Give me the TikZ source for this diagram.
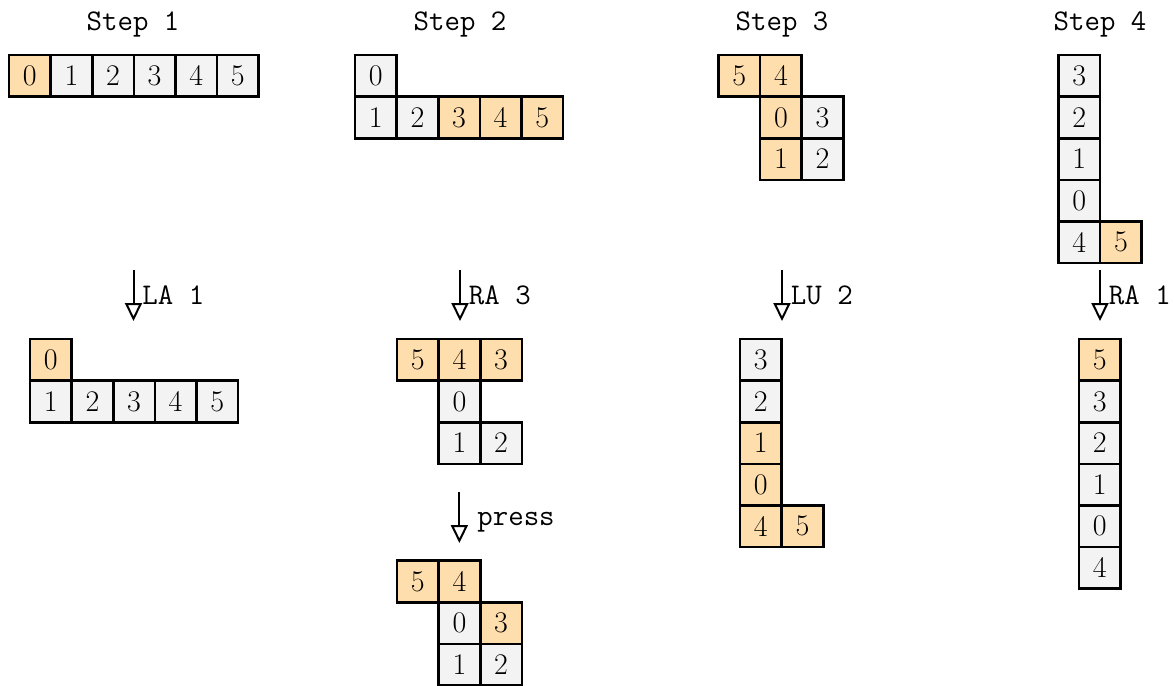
\documentclass[tikz,border=0pt]{standalone}
\usepackage{fontspec}
\usetikzlibrary{arrows.meta}
\definecolor{cgray}{RGB}{243,243,243}
\definecolor{corange}{RGB}{255,222,173}
\tikzset{
  cell/.style={draw, line width=1.3pt, minimum size=20.8pt, inner sep=0pt, fill=cgray,
    font=\fontsize{15}{17}\selectfont},
  hl/.style={cell, fill=corange},
  title/.style={font=\fontsize{15}{17}\selectfont\ttfamily, inner sep=0pt, anchor=base},
  oplabel/.style={font=\fontsize{15}{17}\selectfont\ttfamily, inner sep=0pt, anchor=base west},
  oparrow/.style={line width=1pt, -{Triangle[open, width=8.5pt, length=9pt, line width=1pt]}},
}
\begin{document}
\begin{tikzpicture}[x=0.5pt, y=-0.5pt]
\useasboundingbox (0,0) rectangle (1174,686);

% titles
\node[title] (t1) at (133,30) {Step 1};
\node[title] (t2) at (460,30) {Step 2};
\node[title] (t3) at (782,30) {Step 3};
\node[title] (t4) at (1100,30) {Step 4};

% Step 1 top
\node[hl]   (a0) at (29.8,75.8) {0};
\node[cell] (a1) at (71.4,75.8) {1};
\node[cell] (a2) at (113,75.8) {2};
\node[cell] (a3) at (154.6,75.8) {3};
\node[cell] (a4) at (196.2,75.8) {4};
\node[cell] (a5) at (237.8,75.8) {5};

% Step 2 top
\node[cell] (b0) at (375.8,75.8) {0};
\node[cell] (b1) at (375.8,117.4) {1};
\node[cell] (b2) at (417.4,117.4) {2};
\node[hl]   (b3) at (459,117.4) {3};
\node[hl]   (b4) at (500.6,117.4) {4};
\node[hl]   (b5) at (542.2,117.4) {5};

% Step 3 top
\node[hl]   (c5) at (739.3,75.8) {5};
\node[hl]   (c4) at (780.9,75.8) {4};
\node[hl]   (c0) at (780.9,117.4) {0};
\node[cell] (c3) at (822.5,117.4) {3};
\node[hl]   (c1) at (780.9,159) {1};
\node[cell] (c2) at (822.5,159) {2};

% Step 4 top
\node[cell] (d3) at (1079.3,75.8) {3};
\node[cell] (d2) at (1079.3,117.4) {2};
\node[cell] (d1) at (1079.3,159) {1};
\node[cell] (d0) at (1079.3,200.6) {0};
\node[cell] (d4) at (1079.3,242.2) {4};
\node[hl]   (d5) at (1120.9,242.2) {5};

% arrows
\coordinate (s1) at (133.5,270); \coordinate (e1) at (133.5,321);
\coordinate (s2) at (460,270);   \coordinate (e2) at (460,321);
\coordinate (s3) at (782,270);   \coordinate (e3) at (782,321);
\coordinate (s4) at (1100,270);  \coordinate (e4) at (1100,321);
\coordinate (s5) at (459.4,492); \coordinate (e5) at (459.4,543);
\draw[oparrow] (s1) -- (e1);
\draw[oparrow] (s2) -- (e2);
\draw[oparrow] (s3) -- (e3);
\draw[oparrow] (s4) -- (e4);
\draw[oparrow] (s5) -- (e5);
\node[oplabel] (l1) at (142,304) {LA 1};
\node[oplabel] (l2) at (468.5,304) {RA 3};
\node[oplabel] (l3) at (790.5,304) {LU 2};
\node[oplabel] (l4) at (1108.5,304) {RA 1};
\node[oplabel] (l5) at (477,525) {press};

% Step 1 bottom
\node[hl]   (e0) at (50.8,359.8) {0};
\node[cell] (e1n) at (50.8,401.4) {1};
\node[cell] (e2n) at (92.4,401.4) {2};
\node[cell] (e3n) at (134,401.4) {3};
\node[cell] (e4n) at (175.6,401.4) {4};
\node[cell] (e5n) at (217.2,401.4) {5};

% Step 2 bottom
\node[hl]   (f5) at (417.8,359.8) {5};
\node[hl]   (f4) at (459.4,359.8) {4};
\node[hl]   (f3) at (501,359.8) {3};
\node[cell] (f0) at (459.4,401.4) {0};
\node[cell] (f1) at (459.4,443) {1};
\node[cell] (f2) at (501,443) {2};

% press result
\node[hl]   (g5) at (417.8,581.4) {5};
\node[hl]   (g4) at (459.4,581.4) {4};
\node[cell] (g0) at (459.4,623) {0};
\node[hl]   (g3) at (501,623) {3};
\node[cell] (g1) at (459.4,664.6) {1};
\node[cell] (g2) at (501,664.6) {2};

% Step 3 bottom
\node[cell] (h3) at (760.8,359.8) {3};
\node[cell] (h2) at (760.8,401.4) {2};
\node[hl]   (h1) at (760.8,443) {1};
\node[hl]   (h0) at (760.8,484.6) {0};
\node[hl]   (h4) at (760.8,526.2) {4};
\node[hl]   (h5) at (802.4,526.2) {5};

% Step 4 bottom
\node[hl]   (k5) at (1099.8,359.8) {5};
\node[cell] (k3) at (1099.8,401.4) {3};
\node[cell] (k2) at (1099.8,443) {2};
\node[cell] (k1) at (1099.8,484.6) {1};
\node[cell] (k0) at (1099.8,526.2) {0};
\node[cell] (k4) at (1099.8,567.8) {4};
\end{tikzpicture}
\end{document}
